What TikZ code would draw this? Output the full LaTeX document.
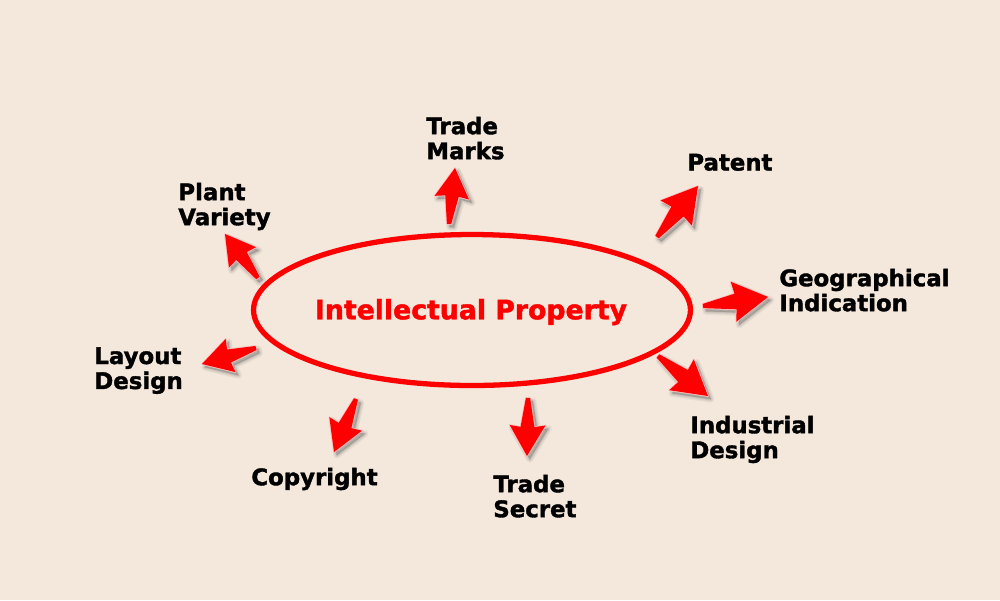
\documentclass[tikz,border=0pt]{standalone}
\usepackage{fontspec}
\setmainfont{DejaVu Sans}[BoldFont={DejaVu Sans Bold},BoldFeatures={FakeBold=1.6}]
\usetikzlibrary{calc,shapes.geometric}
\definecolor{bgc}{RGB}{244,231,219}
\definecolor{redc}{RGB}{255,0,0}
\tikzset{
  x=0.02cm,y=-0.02cm,
  lab/.style={font=\bfseries\fontsize{13}{14.2}\selectfont,align=left,anchor=north west,inner sep=0pt,text=black},
  blockarrow/.style={to path={
    ($(\tikztostart)!1.2pt!90:(\tikztotarget)$)
    -- ($($(\tikztostart)!0.50!(\tikztotarget)$)!0.24!90:(\tikztotarget)$)
    -- ($($(\tikztostart)!0.47!(\tikztotarget)$)!0.58!90:(\tikztotarget)$)
    -- (\tikztotarget)
    -- ($($(\tikztostart)!0.47!(\tikztotarget)$)!0.58!-90:(\tikztotarget)$)
    -- ($($(\tikztostart)!0.50!(\tikztotarget)$)!0.24!-90:(\tikztotarget)$)
    -- ($(\tikztostart)!1.2pt!-90:(\tikztotarget)$) -- cycle}},
}
\newcommand{\shadedarrow}[2]{%
  \foreach \w/\o in {4/0.07,2.8/0.09,1.6/0.11,0.6/0.14}{
    \path[blockarrow,draw=black!60,fill=black!60,line width=\w pt,opacity=\o,line join=round,transform canvas={xshift=1.6pt,yshift=-1.8pt}] (#1) to (#2);
  }
  \path[blockarrow,draw=white!75!redc,line width=0.9pt,line join=round,fill=redc] (#1) to (#2);
  \path[blockarrow,fill=redc,line join=round] (#1) to (#2);
}
\begin{document}
\begin{tikzpicture}
\useasboundingbox (0,0) rectangle (1000,600);
\fill[bgc] (0,0) rectangle (1000,600);
\node[draw=redc,line width=3pt,ellipse,minimum width=8.74cm,minimum height=3.02cm,inner sep=0pt] (ip) at (472,310) {};
\node[font=\bfseries\fontsize{15.2}{17}\selectfont,text=redc,inner sep=0pt] (ipt) at (471,312) {Intellectual Property};
\node[lab] (tm) at (426,116.5) {Trade\\Marks};
\node[lab] (pv) at (178,182.5) {Plant\\Variety};
\node[lab] (pa) at (687,153.5) {Patent};
\node[lab] (gi) at (779,268.5) {Geographical\\Indication};
\node[lab] (id) at (690,415.5) {Industrial\\Design};
\node[lab] (ld) at (94,347) {Layout\\Design};
\node[lab] (co) at (251,467.5) {Copyright};
\node[lab] (ts) at (493,474.5) {Trade\\Secret};
\coordinate (a1) at (449,224); \coordinate (b1) at (455,168);
\coordinate (a2) at (258,278); \coordinate (b2) at (225,234);
\coordinate (a3) at (657,237); \coordinate (b3) at (698,186);
\coordinate (a4) at (703,306); \coordinate (b4) at (768,297);
\coordinate (a5) at (658,356); \coordinate (b5) at (708,396);
\coordinate (a6) at (256,348); \coordinate (b6) at (202,364);
\coordinate (a7) at (356,399); \coordinate (b7) at (334,452);
\coordinate (a8) at (528,398); \coordinate (b8) at (527,456);
\foreach \i in {1,...,8}{\shadedarrow{a\i}{b\i}}
\end{tikzpicture}
\end{document}
